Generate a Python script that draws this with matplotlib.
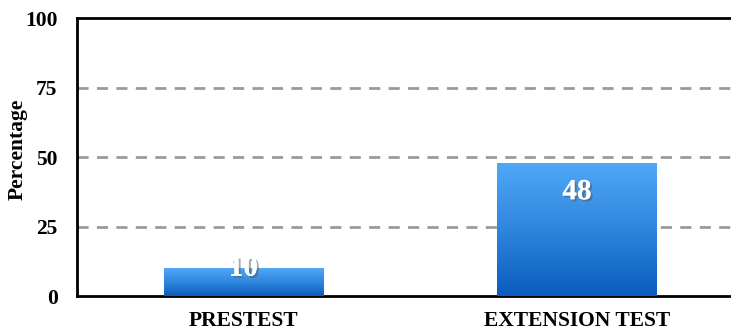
import numpy as np
import matplotlib.pyplot as plt
import matplotlib.patheffects as pe
from matplotlib.colors import LinearSegmentedColormap

# --- data ---
categories = ['PRESTEST', 'EXTENSION TEST']
values = [10, 48]
yticks = [0, 25, 50, 75, 100]

plt.rcParams['font.family'] = ['Liberation Serif', 'DejaVu Serif']
plt.rcParams['font.weight'] = 'bold'

fig = plt.figure(figsize=(7.31, 3.31), dpi=100)
ax = fig.add_axes([0.1053, 0.1057, 0.8947, 0.8399])

x = np.arange(len(categories))
width = 0.477
bars = ax.bar(x, values, width, color='none', edgecolor='none', zorder=3)

# vertical gradient fill, light on top, dark at bottom
cmap = LinearSegmentedColormap.from_list('blues', ['#0A5CBE', '#2F86DD', '#50A8F8'])
grad = np.linspace(0, 1, 256).reshape(-1, 1)
for b in bars:
    x0, y0 = b.get_x(), b.get_y()
    im = ax.imshow(grad, extent=[x0, x0 + b.get_width(), y0, y0 + b.get_height()],
                   origin='lower', aspect='auto', cmap=cmap, zorder=3)
    im.set_clip_path(b)

# value labels, white with a soft shadow
shadow = [pe.withSimplePatchShadow(offset=(1.5, -1.5), shadow_rgbFace='#555555', alpha=0.5),
          pe.Normal()]
for xi, v in zip(x, values):
    off = -21 if v > 20 else 0
    ax.annotate(str(v), (xi, v), xytext=(0, off), textcoords='offset points',
                ha='center', va='center', color='white', fontsize=21,
                fontweight='bold', zorder=5, path_effects=shadow)

ax.set_xlim(-0.499, 1.462)
ax.set_ylim(0, 100)
ax.set_yticks(yticks)
ax.set_xticks(x)
ax.set_xticklabels(categories)
ax.tick_params(axis='both', length=0, labelsize=15.5)
ax.tick_params(axis='y', pad=14)
ax.tick_params(axis='x', pad=11)
ax.set_ylabel('Percentage', fontsize=15.5, fontweight='bold')
ax.yaxis.set_label_coords(-0.076, 0.529)

for y in yticks[1:-1]:
    ax.axhline(y, color='#9a9a9a', linestyle=(0, (4, 3)), linewidth=2, zorder=1)

for s in ['left', 'bottom', 'top']:
    ax.spines[s].set_linewidth(2)
    ax.spines[s].set_color('black')
ax.spines['right'].set_visible(False)

fig.savefig('out.png', dpi=100)
